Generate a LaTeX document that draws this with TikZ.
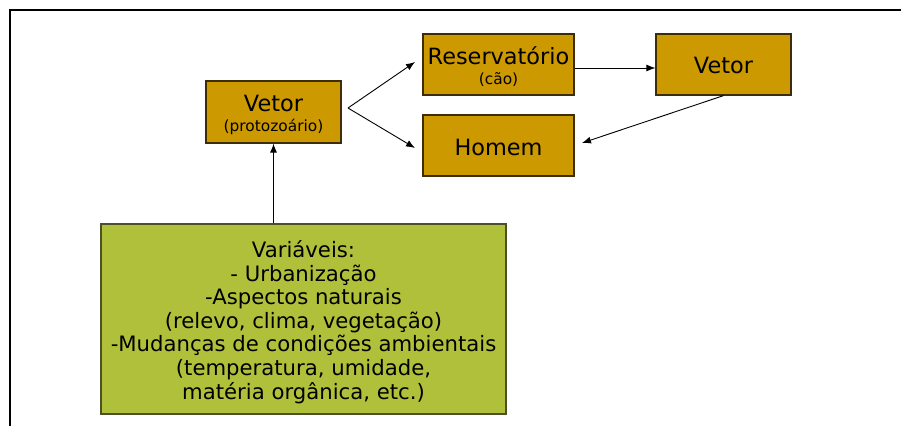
\documentclass[tikz,border=0pt]{standalone}
\usepackage{fontspec}
\setmainfont{DejaVu Sans}
\usetikzlibrary{arrows.meta}
\definecolor{gold}{RGB}{204,153,0}
\definecolor{olive}{RGB}{177,192,58}
\definecolor{goldline}{RGB}{60,45,5}
\definecolor{oliveline}{RGB}{75,80,40}
\begin{document}
\begin{tikzpicture}[x=1pt,y=-1pt,
  box/.style={draw=goldline,fill=gold,line width=1.2pt,inner sep=0pt},
  lbl/.style={inner sep=0pt,align=center,font=\fontsize{22.4}{24}\selectfont},
  arr/.style={-{Latex[length=9pt,width=7pt]},line width=0.9pt,black}]
\newcommand{\smalltxt}[1]{{\fontsize{15.4}{17}\selectfont #1}}
\useasboundingbox (0,0) rectangle (901,426);
\draw[line width=1.2pt] (10,426) -- (10,10) -- (901,10);
% boxes
\node[box,minimum width=135pt,minimum height=62pt] (v1) at (273.5,112) {};
\node[lbl] (v1t) at (273.5,115) {Vetor\\[-4pt]\smalltxt{(protozoário)}};
\node[box,minimum width=151pt,minimum height=61pt] (res) at (498.5,64.5) {};
\node[lbl] (rest) at (498.5,67) {Reservatório\\[-4pt]\smalltxt{(cão)}};
\node[box,minimum width=135pt,minimum height=61pt] (v2) at (723.5,64.5) {};
\node[lbl] (v2t) at (723.5,65) {Vetor};
\node[box,minimum width=151pt,minimum height=61pt] (hom) at (498.5,145.5) {};
\node[lbl] (homt) at (498.5,147) {Homem};
\node[draw=oliveline,fill=olive,line width=1.2pt,minimum width=405pt,minimum height=190pt] (var) at (303.5,319) {};
\node[inner sep=0pt,align=center,font=\fontsize{21.2}{23.6}\selectfont] (vart) at (303.5,322) {Variáveis:\\- Urbanização\\-Aspectos naturais\\(relevo, clima, vegetação)\\-Mudanças de condições ambientais\\(temperatura, umidade,\\matéria orgânica, etc.)};
% connectors
\coordinate (fork) at (348,108);
\draw[arr] (var.north -| v1.south) -- (v1.south);
\draw[arr] (fork) -- (415,62);
\draw[arr] (fork) -- (415,148);
\draw[arr] (res.east |- 0,68) -- (v2.west |- 0,68);
\draw[arr] (v2.south) -- (582,143);
\end{tikzpicture}
\end{document}
